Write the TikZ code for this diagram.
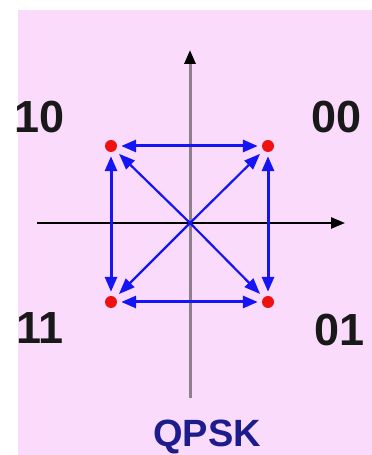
\documentclass[tikz,border=0pt]{standalone}
\usepackage{fontspec}
\setmainfont{Liberation Sans}
\usepackage{xcolor}
\usetikzlibrary{arrows.meta}
\definecolor{qpBg}{HTML}{FBDBFB}
\definecolor{qpBlue}{HTML}{1414F5}
\definecolor{qpRed}{HTML}{F01010}
\definecolor{qpAxis}{HTML}{8C808C}
\definecolor{qpNavy}{HTML}{1C1C8C}
\tikzset{
  symbol/.style={circle, fill=qpRed, inner sep=0pt, minimum size=12pt},
  bits/.style={font=\fontsize{45}{45}\selectfont\bfseries, text=black!90, inner sep=0pt},
  axis/.style={-{Triangle[length=14pt, width=11pt]}, line width=2.4pt},
  trans/.style={{Triangle[length=15pt, width=12pt]}-{Triangle[length=15pt, width=12pt]},
    qpBlue, line width=3pt, shorten <=4pt, shorten >=4pt},
  ray/.style={-{Triangle[length=16pt, width=12pt]}, qpBlue, line width=2.2pt, shorten >=5pt}
}
\begin{document}
\begin{tikzpicture}[x=1pt, y=1pt]
  \useasboundingbox (0,0) rectangle (372,455);
  \fill[qpBg] (18,0) rectangle (372,445);
  % axes
  \coordinate (o) at (190,232);
  \coordinate (ybot) at (190,57);
  \coordinate (ytop) at (190,405);
  \coordinate (xleft) at (37,232);
  \coordinate (xright) at (345,232);
  \draw[axis, qpAxis, line width=3pt, -{Triangle[length=14pt, width=11pt, color=black]}] (ybot) -- (ytop);
  \draw[axis, black] (xleft) -- (xright);
  % constellation points
  \node[symbol] (p10) at (111,309) {};
  \node[symbol] (p00) at (268,309) {};
  \node[symbol] (p11) at (111,153) {};
  \node[symbol] (p01) at (268,153) {};
  % transitions
  \draw[trans] (p10) -- (p00);
  \draw[trans] (p11) -- (p01);
  \draw[trans] (p10) -- (p11);
  \draw[trans] (p00) -- (p01);
  \foreach \p in {p00, p10, p11, p01}
    \draw[ray] (o) -- (\p);
  % labels
  \node[bits] (l10) at (40,338) {10};
  \node[bits] (l00) at (337,338) {00};
  \node[bits] (l11) at (40,127) {11};
  \node[bits] (l01) at (340,125) {01};
  \node[font=\fontsize{38}{38}\selectfont\bfseries, text=qpNavy, anchor=base, inner sep=0pt] (title) at (207,9) {QPSK};
\end{tikzpicture}
\end{document}
